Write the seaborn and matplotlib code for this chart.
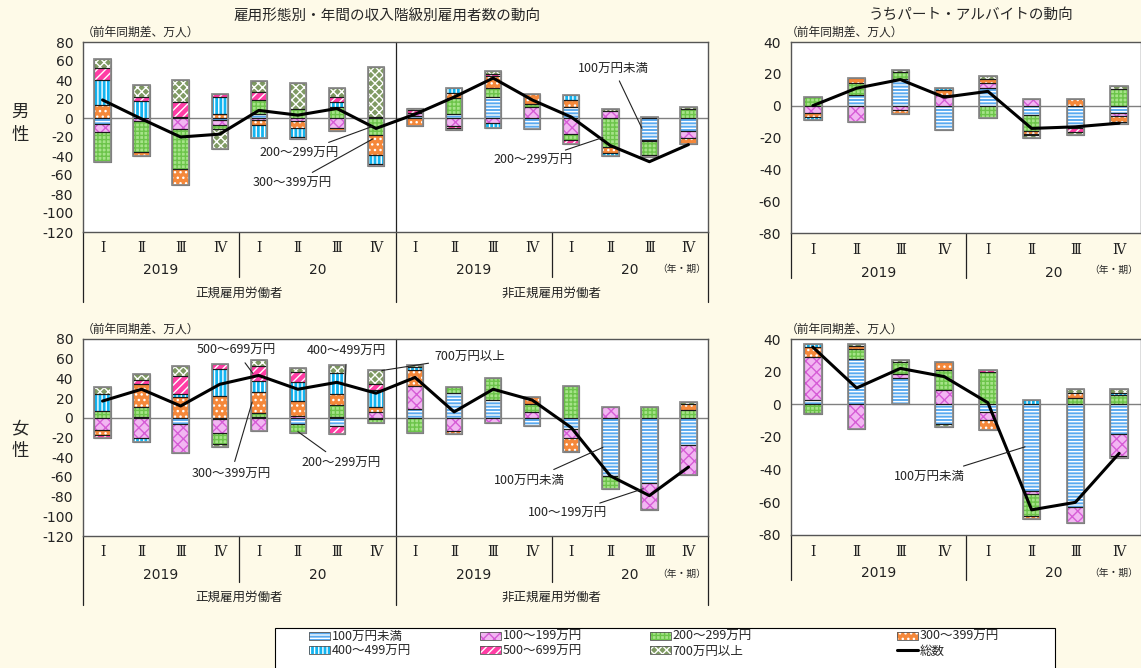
import numpy as np
import pandas as pd
import matplotlib
matplotlib.use('Agg')
import matplotlib.pyplot as plt
import seaborn as sns
from matplotlib.patches import Patch, Rectangle
from matplotlib.lines import Line2D

# 区分
quarters = ['Ⅰ', 'Ⅱ', 'Ⅲ', 'Ⅳ']
years = ['2019', '20']
groups = ['正規雇用労働者', '非正規雇用労働者']
bands = ['100万円未満', '100～199万円', '200～299万円', '300～399万円',
         '400～499万円', '500～699万円', '700万円以上']

# 男性: 正規(2019Ⅰ～20Ⅳ) + 非正規(2019Ⅰ～20Ⅳ)
m_lt100 = [-6, 0, 1, -2, 4, 0, 0, 1, 2, 4, 22, -12, 12, 0, -23.5, -14]
m_100 = [-8.5, -3, -12, -5, -2, -3, -10.5, 0, 3, -8, -5, 12, -16.5, 7, -0.5, -7]
m_200 = [-32, -32.5, -42, -5, 15, 9, 12, -18, 0, 17, 10, 3, -6.5, -30, -14.5, 9]
m_300 = [14, -5, -16, 4, -5, -7.5, -3.5, -21, -8, 5, 12, 10, 7, -7, 0, -6.5]
m_400 = [26, 18, 0, 18, -14, -10, 5, -9, 0, 5.5, -5, 0, 5, -3.5, 0, 0]
m_500 = [13, 4.5, 16, 3, 8, -2, 5, -2, 3, -2.5, 2, 0, -4, 0, -2.5, 0]
m_700 = [9, 12, 23, -21, 12, 27.5, 10, 53, 2, -2, 3.5, 0, 0, 3, 1.5, 2.5]
m_total = [19, -1, -20, -17, 8, 3, 10, -11, 4, 22, 42, 19, 1, -29, -46, -28]

# 男性 うちパート・アルバイト
mp_lt100 = [0, 6.7, 16.8, -15.4, 11.2, -5.9, -14.3, -4.6]
mp_100 = [-4.8, -10, -2.7, 6.7, 3.2, 4, 0, -1.7]
mp_200 = [5.3, 7.6, 4.2, 0, -7.8, -10, 0, 10.5]
mp_300 = [-2.6, 3, -2.6, 3, 2.3, -1.7, 4, -3.7]
mp_400 = [-1.4, 0, 0, 1.2, 0, -1, 0, -1.4]
mp_500 = [0, 0, 0, 0, 0, 0, -2.5, 0]
mp_700 = [0, 0, 1.3, 0, 1.7, -1.5, -1.5, 1.7]
mp_total = [0, 11, 16.4, 5.3, 9, -14.3, -13.3, -11]

# 女性: 正規 + 非正規
f_lt100 = [0, 1, -5.8, -1.7, 1, -6.8, -8.5, -1.7, 8.5, 24.8, 18, -8.5, -11, -59.5, -66, -27.2]
f_100 = [-12.6, -21, -30, -14, -13.6, 1.7, 1, 6, 24, -13.6, -5, 6, -9.4, 10.5, -26.5, -30.6]
f_200 = [7, 9.5, 0, -11, 4, -9, 11.5, -3.3, -15.3, 6, 22, 8, 32.7, -12.5, 10.5, 7.8]
f_300 = [-5, 24, 20.7, 22.4, 21.5, 15, 11.5, 5, 16, -2.4, 0, 7.4, -13.6, 0, -1, 5.8]
f_400 = [17, -4, 3.5, 27, 11, 20, 21, 17, 3, 0, 0, 0, 0, 0, 0, 0]
f_500 = [-3.3, 4, 18, 5, 15, 10, -7.5, 6, 0, 0, 0, 0, 0, 0, 0, 0]
f_700 = [7, 6, 10, -3.4, 6, 3.5, 8.5, 15, 2, 0, 0, 0, -1, 0, 0, 2]
f_total = [17, 29, 12, 34, 43, 29, 36, 25, 41, 6, 29, 18, -10, -59, -79, -50]

# 女性 うちパート・アルバイト
fp_lt100 = [2.5, 28, 16.4, -11.9, -4.7, -53, -63, -18]
fp_100 = [26.5, -15, 2, 8.8, -5.1, -2, -9.8, -13.4]
fp_200 = [-5.1, 6, 7.8, 12.3, 20, -13.3, 4.1, 5.5]
fp_300 = [6, 1.5, 0, 5, -6.2, -2, 3, 0]
fp_400 = [2, 0, 0, 0, 0, 2.5, 0, 1.6]
fp_500 = [0, 0, 0, 0, 1, 0, 0, -1.4]
fp_700 = [-0.9, 1.5, 1, -1.8, 0, 0, 2, 2]
fp_total = [35, 10, 22, 17, 1, -64.6, -60, -30]

male = pd.DataFrame(dict(zip(bands, [m_lt100, m_100, m_200, m_300, m_400, m_500, m_700])))
male_pt = pd.DataFrame(dict(zip(bands, [mp_lt100, mp_100, mp_200, mp_300, mp_400, mp_500, mp_700])))
female = pd.DataFrame(dict(zip(bands, [f_lt100, f_100, f_200, f_300, f_400, f_500, f_700])))
female_pt = pd.DataFrame(dict(zip(bands, [fp_lt100, fp_100, fp_200, fp_300, fp_400, fp_500, fp_700])))

# 見た目
face = ['#5AAAF0', '#F2B6F2', '#A6E389', '#F5883A', '#14B4F0', '#FF3DA5', '#7F9A63']
hatch = ['-----', 'xxx', '++++', '...', '||||', '////', 'xxxx']
hcol = ['white', '#D65CD6', '#6CC44A', 'white', 'white', 'white', 'white']
BG = '#FEFAE8'
W, H = 1141, 668

sns.set_theme(style='white')
plt.rcParams['font.family'] = ['Noto Sans CJK JP', 'DejaVu Sans']
plt.rcParams['axes.unicode_minus'] = False
plt.rcParams['hatch.linewidth'] = 1.0

fig = plt.figure(figsize=(W / 100, H / 100), dpi=100, facecolor=BG)


def px_axes(l, t, r, b):
    return fig.add_axes([l / W, 1 - b / H, (r - l) / W, (b - t) / H])


def draw_bars(ax, frame, total, width):
    x = np.arange(len(frame))
    pos = np.zeros(len(frame))
    neg = np.zeros(len(frame))
    for i, name in enumerate(bands):
        v = frame[name].to_numpy(dtype=float)
        base = np.where(v >= 0, pos, neg)
        m = v != 0
        ax.bar(x[m], v[m], width, bottom=base[m], color=face[i], hatch=hatch[i],
               edgecolor=hcol[i], linewidth=0, zorder=2)
        ax.bar(x[m], v[m], width, bottom=base[m], fill=False,
               edgecolor='#1a1a1a', linewidth=0.8, zorder=3)
        pos += np.clip(v, 0, None)
        neg += np.clip(v, None, 0)
    ax.bar(x, pos - neg, width, bottom=neg, fill=False, edgecolor='#8c8c8c',
           linewidth=1.3, zorder=4)
    ax.axhline(0, color='#808080', lw=1, zorder=1.5)
    sns.lineplot(x=x, y=total, ax=ax, color='black', linewidth=2.2, zorder=6)


def style_axes(ax, n, ylim):
    ax.set_facecolor('white')
    ax.set_xlim(-0.5, n - 0.5)
    ax.set_ylim(*ylim)
    ax.set_yticks(np.arange(ylim[0], ylim[1] + 1, 20))
    ax.set_xticks([])
    ax.tick_params(axis='y', length=0, pad=7, labelsize=10, labelcolor='#222222')
    for lab in ax.get_yticklabels():
        lab.set_family('DejaVu Sans')
    for s in ax.spines.values():
        s.set_color('#555555')
        s.set_linewidth(1.0)
    ax.set_xlabel('')
    ax.set_ylabel('')


def under(ax, n, num_px, year_px, group_px, ysep_px, full_px, right_ext):
    tr = ax.get_xaxis_transform()
    h = ax.get_position().height * H
    fy = lambda p: -p / h
    kw = dict(transform=tr, clip_on=False, color='#222222', lw=0.9)
    for i in range(n):
        ax.text(i, fy(num_px), quarters[i % 4], transform=tr, ha='center', va='center',
                fontsize=10, family=['DejaVu Serif', 'Noto Sans CJK JP'], color='#222222')
    for j in range(n // 4):
        ax.text(4 * j + 1.5, fy(year_px), years[j % 2], transform=tr, ha='center',
                va='center', fontsize=10, family='DejaVu Sans', color='#222222')
    for j in range(1, n // 4):
        xs = 4 * j - 0.5
        if j % 2 == 0:
            ax.plot([xs, xs], [1, fy(full_px)], **kw)
        else:
            ax.plot([xs, xs], [0, fy(ysep_px)], **kw)
    ax.plot([-0.5, -0.5], [0, fy(full_px)], **kw)
    if right_ext:
        ax.plot([n - 0.5, n - 0.5], [0, fy(full_px)], **kw)
    if group_px is not None:
        for g in range(n // 8):
            ax.text(8 * g + 3.5, fy(group_px), groups[g], transform=tr, ha='center',
                    va='center', fontsize=9, color='#222222')


def note(ax, text, xy, xytext, ha):
    ax.annotate(text, xy=xy, xytext=xytext, ha=ha, va='center', fontsize=9,
                color='#222222', zorder=8,
                arrowprops=dict(arrowstyle='-', color='#222222', lw=0.8,
                                shrinkA=2, shrinkB=0))


# 上段: 男性
ax1 = px_axes(83, 42, 708, 232)
draw_bars(ax1, male, m_total, 0.42)
style_axes(ax1, 16, (-120, 80))
under(ax1, 16, 16, 38, 61, 45, 70, True)
note(ax1, '200～299万円', (6.9, -9), (6.05, -37), 'right')
note(ax1, '300～399万円', (6.92, -22), (5.87, -69), 'right')
note(ax1, '100万円未満', (13.81, -11), (13.08, 52), 'center')
note(ax1, '200～299万円', (12.81, -20.5), (12.05, -45), 'right')

ax2 = px_axes(791, 42, 1141, 233)
draw_bars(ax2, male_pt, mp_total, 0.4)
style_axes(ax2, 8, (-80, 40))
under(ax2, 8, 17, 40, None, 45, 45, False)

# 下段: 女性
ax3 = px_axes(83, 339, 708, 536)
draw_bars(ax3, female, f_total, 0.42)
style_axes(ax3, 16, (-120, 80))
under(ax3, 16, 16, 39, 61, 46, 69, True)
note(ax3, '500～699万円', (3.85, 45), (3.42, 68), 'center')
note(ax3, '400～499万円', (6.21, 35), (6.25, 67), 'center')
note(ax3, '700万円以上', (7.15, 48), (8.5, 62), 'left')
note(ax3, '300～399万円', (3.83, 16), (3.29, -57), 'center')
note(ax3, '200～299万円', (5.0, -14), (6.12, -46), 'center')
note(ax3, '100万円未満', (12.81, -30), (11.84, -63.6), 'right')
note(ax3, '100～199万円', (13.84, -72), (12.92, -97.4), 'right')

ax4 = px_axes(791, 339, 1141, 535)
draw_bars(ax4, female_pt, fp_total, 0.4)
style_axes(ax4, 8, (-80, 40))
under(ax4, 8, 17, 38, None, 45, 45, False)
note(ax4, '100万円未満', (4.85, -26), (3.48, -44.3), 'right')


# 図全体の文字
def ftext(x, y, s, **kw):
    fig.text(x / W, 1 - y / H, s, **kw)


ftext(387, 17, '雇用形態別・年間の収入階級別雇用者数の動向', ha='center', va='center', fontsize=10.5)
ftext(971, 15, 'うちパート・アルバイトの動向', ha='center', va='center', fontsize=10.5)
for x, y in [(82, 32), (786, 32), (82, 329), (786, 329)]:
    ftext(x, y, '（前年同期差、万人）', ha='left', va='center', fontsize=8.5)
for x, y in [(706, 269), (1138, 270), (706, 574), (1138, 573)]:
    ftext(x, y, '（年・期）', ha='right', va='center', fontsize=7)
ftext(20, 112, '男', ha='center', va='center', fontsize=12.5)
ftext(20, 135, '性', ha='center', va='center', fontsize=12.5)
ftext(20, 428, '女', ha='center', va='center', fontsize=12.5)
ftext(20, 451, '性', ha='center', va='center', fontsize=12.5)

# 凡例（枠は手描き、4列を個別に配置）
fig.add_artist(Rectangle((275 / W, -0.02), 780 / W, 0.02 + (668 - 628) / H,
                         transform=fig.transFigure, facecolor='white',
                         edgecolor='black', linewidth=0.8, zorder=0))
handles = [(Patch(facecolor=face[i], hatch=hatch[i], edgecolor=hcol[i], linewidth=0),
            Patch(fill=False, edgecolor='#555555', linewidth=0.6)) for i in range(7)]
handles.append(Line2D([], [], color='black', linewidth=2.2))
labels = bands + ['総数']
col_x = [309, 480, 650, 897]
for c in range(4):
    idx = [c, c + 4]
    fig.legend([handles[i] for i in idx], [labels[i] for i in idx],
               loc='upper left', bbox_to_anchor=(col_x[c] / W, 1 - 630 / H),
               frameon=False, fontsize=9, handlelength=1.7, handleheight=0.6,
               handletextpad=0.1, labelspacing=0.12, borderpad=0, borderaxespad=0)

fig.savefig('out.png', dpi=100, facecolor=BG)
